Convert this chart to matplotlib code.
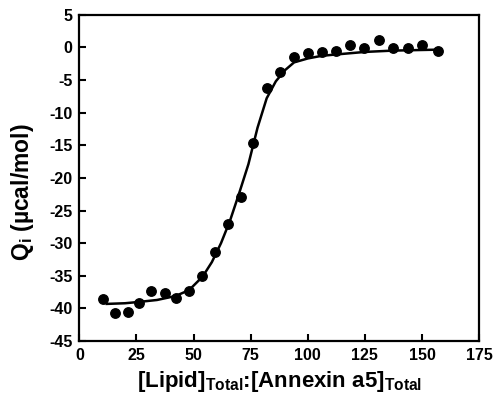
import matplotlib
matplotlib.use('Agg')
import matplotlib.pyplot as plt

# measured heats per injection
ratio = [10.5, 15.8, 21.2, 26.3, 31.4, 37.3, 42.4, 47.9, 53.6, 59.2, 64.9, 70.6,
         76.2, 82.3, 88.0, 94.0, 100.1, 106.0, 112.3, 118.4, 124.6, 131.0,
         137.4, 143.7, 150.1, 156.8]
heat = [-38.6, -40.7, -40.6, -39.2, -37.3, -37.6, -38.4, -37.4, -35.0, -31.3,
        -27.1, -22.9, -14.6, -6.3, -3.7, -1.4, -0.9, -0.7, -0.6, 0.4, -0.1,
        1.1, -0.1, -0.1, 0.4, -0.6]

# fitted curve
fit_x = [12, 20, 26, 34, 42, 48, 54, 58, 62, 66, 70, 74, 78, 82, 86, 90, 94,
         100, 106, 112, 125, 137, 150, 157]
fit_y = [-39.3, -39.2, -39.0, -38.7, -38.1, -37.2, -35.1, -32.9, -30.0, -26.5,
         -22.3, -17.9, -12.3, -7.8, -5.2, -3.5, -2.3, -1.7, -1.3, -1.1, -0.7,
         -0.5, -0.4, -0.35]

xticks = [0, 25, 50, 75, 100, 125, 150, 175]
yticks = [5, 0, -5, -10, -15, -20, -25, -30, -35, -40, -45]

plt.rcParams['font.family'] = ['Liberation Sans', 'DejaVu Sans']
plt.rcParams['font.weight'] = 'bold'
plt.rcParams['axes.unicode_minus'] = False
plt.rcParams['mathtext.fontset'] = 'custom'
plt.rcParams['mathtext.rm'] = 'Liberation Sans:bold'
plt.rcParams['mathtext.bf'] = 'Liberation Sans:bold'
plt.rcParams['mathtext.it'] = 'Liberation Sans:bold'
plt.rcParams['mathtext.default'] = 'bf'

fig = plt.figure(figsize=(4.96, 4.09), dpi=100)
ax = fig.add_axes([0.16, 0.166, 0.806, 0.798])

ax.plot(fit_x, fit_y, color='black', lw=1.8)
ax.plot(ratio, heat, 'o', color='black', ms=6.8)

ax.set_xlim(0, 175)
ax.set_ylim(-45, 5)
ax.set_xticks(xticks)
ax.set_yticks(yticks)
ax.tick_params(direction='in', length=5, width=1.5, labelsize=11.5, pad=5,
               top=False, right=False)
for lbl in ax.get_xticklabels() + ax.get_yticklabels():
    lbl.set_fontweight('bold')
for s in ax.spines.values():
    s.set_linewidth(1.6)

ax.set_xlabel(r'[Lipid]$_{Total}$:[Annexin a5]$_{Total}$',
              fontsize=16, fontweight='bold', labelpad=4)
ax.set_ylabel(r'Q$_{i}$ (µcal/mol)', fontsize=16.5, fontweight='bold')
ax.yaxis.set_label_coords(-0.108, 0.455)

fig.savefig('out.png', dpi=100)
